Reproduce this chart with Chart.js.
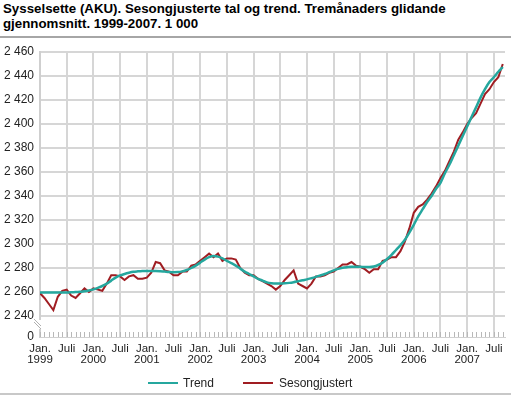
<!DOCTYPE html>
<html><head><meta charset="utf-8">
<script src="https://cdn.jsdelivr.net/npm/chart.js@4.4.1/dist/chart.umd.min.js"></script>
<style>
html,body{margin:0;padding:0;background:#fff;}
body{width:511px;height:396px;position:relative;overflow:hidden;font-family:"Liberation Sans",Arial,sans-serif;}
#title{position:absolute;left:3px;top:1px;font-weight:bold;font-size:13.3px;line-height:15px;color:#000;white-space:nowrap;}
#sepTop{position:absolute;left:0;top:36px;width:511px;height:2px;background:#a6a6a6;}
#sepBot{position:absolute;left:0;top:393px;width:511px;height:2px;background:#c8c8c8;}
canvas{position:absolute;left:0;top:0;}
.lg-line{position:absolute;top:382px;width:30px;height:2px;}
.lg-text{position:absolute;top:376px;font-size:12px;line-height:14px;color:#222;white-space:nowrap;}
</style></head><body>
<div id="title">Sysselsette (AKU). Sesongjusterte tal og trend. Tremånaders glidande<br>gjennomsnitt. 1999-2007. 1 000</div>
<div id="sepTop"></div><div id="sepBot"></div>
<canvas id="c" width="511" height="396"></canvas>
<div id="legend"></div>
<script>
const years = [1999, 2000, 2001, 2002, 2003, 2004, 2005, 2006, 2007];
const halfYearLabels = ['Jan.', 'Juli'];
const yTickValues = [2240, 2260, 2280, 2300, 2320, 2340, 2360, 2380, 2400, 2420, 2440, 2460];
const seriesNames = ['Trend', 'Sesongjustert'];
const seriesColors = ['#25a79e', '#a01d22'];

const trend = [
  2259.5, 2259.5, 2259.5, 2259.5, 2259.5, 2259.5, 2259.6, 2259.7, 2259.9, 2260.2, 2260.6, 2261.3,
  2262.2, 2263.5, 2265, 2267, 2269.5, 2272, 2273.8, 2275, 2276, 2276.8, 2277.2, 2277.5,
  2277.6, 2277.6, 2277.5, 2277.3, 2277, 2276.7, 2276.5, 2276.6, 2277.2, 2278.3, 2280, 2282,
  2284.5, 2287, 2289, 2290, 2289.5, 2288, 2286, 2284, 2282, 2279.5, 2277, 2275,
  2273, 2271, 2269.5, 2268, 2267.3, 2267, 2267, 2267.2, 2267.6, 2268.2, 2269, 2269.8,
  2270.5, 2271.5, 2272.6, 2273.8, 2275, 2276.5, 2278, 2279.3, 2280.2, 2280.7, 2281, 2281,
  2281, 2280.8, 2280.8, 2281.2, 2282.5, 2284.5, 2287.5, 2291, 2295, 2299, 2303.5, 2309.5,
  2316, 2323, 2329, 2335, 2340, 2346, 2351, 2359, 2366, 2374, 2382, 2390,
  2398, 2406, 2414, 2422, 2429, 2435, 2439, 2443.5, 2447.5
];
const sesongjustert = [
  2259, 2255, 2250, 2245, 2256, 2261, 2262, 2257, 2255, 2259, 2263, 2260,
  2263, 2262, 2261, 2267, 2274, 2274, 2273, 2270, 2273, 2274, 2271, 2271,
  2272, 2276, 2285, 2284, 2278, 2277, 2274, 2274, 2277, 2277, 2282, 2283,
  2286, 2289, 2292, 2289, 2292, 2286, 2288, 2288, 2287, 2280, 2276, 2274,
  2274, 2271, 2269, 2267, 2265, 2262, 2265, 2270, 2274, 2278, 2267, 2265,
  2263, 2267, 2273, 2273, 2274, 2276, 2277, 2280, 2283, 2283, 2285, 2282,
  2281, 2279, 2276, 2279, 2279, 2286, 2287, 2289, 2289, 2294, 2302, 2313,
  2326, 2331, 2333, 2337, 2342, 2348, 2355, 2361, 2369, 2377, 2387, 2393,
  2400, 2405, 2409, 2417, 2425, 2429, 2435, 2439, 2450
];

const Y_MIN = 2222.5, Y_MAX = 2460, X_MAX = 104.5;
const FONT = '"Liberation Sans", Arial, sans-serif';
const fmt = v => String(v).replace(/\B(?=(\d{3})+$)/g, ' ');
const toPoints = arr => arr.map((v, i) => ({x: i, y: v}));

// HTML legend (real text)
(function () {
  const lg = document.getElementById('legend');
  const pos = [[148, 183], [243, 279]];
  seriesNames.forEach((name, i) => {
    const ln = document.createElement('div');
    ln.className = 'lg-line'; ln.style.left = pos[i][0] + 'px'; ln.style.background = seriesColors[i];
    const tx = document.createElement('div');
    tx.className = 'lg-text'; tx.style.left = pos[i][1] + 'px'; tx.textContent = name;
    lg.appendChild(ln); lg.appendChild(tx);
  });
})();

const axisExtras = {
  id: 'axisExtras',
  beforeDatasetsDraw(chart) {
    const {ctx, chartArea: a, scales: {x}} = chart;
    ctx.save();
    ctx.strokeStyle = '#b8b8b8';
    ctx.lineWidth = 1;
    ctx.beginPath();
    for (let i = 0; i < sesongjustert.length; i++) {
      const px = Math.round(x.getPixelForValue(i)) + 0.5;
      ctx.moveTo(px, a.bottom);
      ctx.lineTo(px, a.bottom - 5);
    }
    ctx.stroke();
    // axis break
    const yb = a.bottom - 13;
    ctx.fillStyle = '#fff';
    ctx.fillRect(a.left - 3, yb - 4, 5, 9);
    ctx.strokeStyle = '#b0b0b0';
    ctx.lineWidth = 1;
    ctx.beginPath();
    ctx.moveTo(a.left - 6, yb - 5); ctx.lineTo(a.left + 1, yb + 2);
    ctx.moveTo(a.left - 6, yb - 2); ctx.lineTo(a.left + 1, yb + 5);
    ctx.stroke();
    ctx.restore();
  }
};

new Chart(document.getElementById('c'), {
  type: 'line',
  data: {
    datasets: [
      {label: seriesNames[0], data: toPoints(trend), borderColor: seriesColors[0], borderWidth: 2.5, pointRadius: 0, cubicInterpolationMode: 'monotone', fill: false},
      {label: seriesNames[1], data: toPoints(sesongjustert), borderColor: seriesColors[1], borderWidth: 2, pointRadius: 0, tension: 0, fill: false}
    ]
  },
  options: {
    responsive: false,
    animation: false,
    events: [],
    layout: {padding: {top: 52, left: 0, right: 6, bottom: 27}},
    scales: {
      x: {
        type: 'linear', min: 0, max: X_MAX,
        afterBuildTicks: s => { const t = []; for (let m = 0; m < sesongjustert.length; m += 6) t.push({value: m}); s.ticks = t; },
        afterFit: s => { s.height = 32; },
        grid: {color: '#d6d6d6', lineWidth: 2, drawTicks: false},
        border: {display: true, color: '#d0d0d0', width: 1},
        ticks: {
          autoSkip: false, maxRotation: 0, padding: 6, color: '#222',
          font: {family: FONT, size: 11.5, lineHeight: '11px'},
          callback: v => (v % 12 === 0) ? [halfYearLabels[0], String(years[v / 12])] : halfYearLabels[1]
        }
      },
      y: {
        type: 'linear', min: Y_MIN, max: Y_MAX,
        afterBuildTicks: s => { s.ticks = [{value: Y_MIN}].concat(yTickValues.map(v => ({value: v}))); },
        afterFit: s => { s.width = 40; },
        grid: {color: c => (c.tick && c.tick.value === Y_MIN) ? 'rgba(0,0,0,0)' : '#d6d6d6', lineWidth: 2, drawTicks: false},
        border: {display: true, color: '#cfcfcf', width: 2},
        ticks: {padding: 6, color: '#222', font: {family: FONT, size: 12}, callback: v => v === Y_MIN ? '0' : fmt(v)}
      }
    },
    plugins: {
      title: {display: false},
      tooltip: {enabled: false},
      legend: {display: false}
    }
  },
  plugins: [axisExtras]
});
</script></body></html>
